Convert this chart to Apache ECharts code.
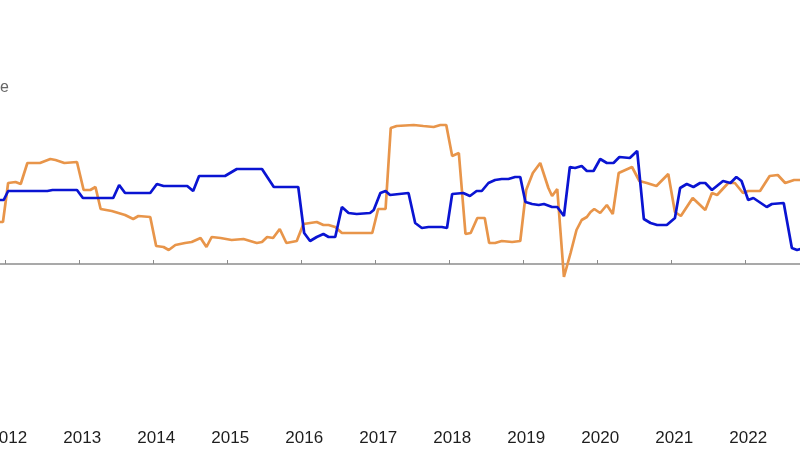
<!DOCTYPE html>
<html>
<head>
<meta charset="utf-8">
<title>Two series, 2012-2022</title>
<script src="https://cdn.jsdelivr.net/npm/echarts@6/dist/echarts.min.js"></script>
<style>
  html, body { margin: 0; padding: 0; background: #fff; }
  #chart { width: 800px; height: 450px; }
</style>
</head>
<body>
<div id="chart"></div>
<script>
// year ticks along the bottom
const years = [2012, 2013, 2014, 2015, 2016, 2017, 2018, 2019, 2020, 2021, 2022];

// blue series: [decimal year, value]
const blueSeries = [
  [2011.93, 6.4], [2011.98, 6.4], [2012.04, 7.3], [2012.57, 7.3], [2012.64, 7.4],
  [2012.97, 7.4], [2013.05, 6.6], [2013.46, 6.6], [2013.54, 7.9], [2013.62, 7.1],
  [2013.96, 7.1], [2014.05, 8.0], [2014.14, 7.8], [2014.46, 7.8], [2014.54, 7.3],
  [2014.62, 8.8], [2014.97, 8.8], [2015.13, 9.5], [2015.47, 9.5], [2015.63, 7.7],
  [2015.96, 7.7], [2016.04, 3.1], [2016.12, 2.3], [2016.21, 2.7], [2016.30, 3.0],
  [2016.37, 2.7], [2016.46, 2.7], [2016.55, 5.7], [2016.64, 5.1], [2016.75, 5.0],
  [2016.93, 5.1], [2016.98, 5.4], [2017.07, 7.1], [2017.14, 7.3], [2017.20, 6.9],
  [2017.45, 7.1], [2017.54, 4.1], [2017.63, 3.6], [2017.72, 3.7], [2017.90, 3.7],
  [2017.97, 3.6], [2018.04, 7.0], [2018.19, 7.1], [2018.28, 6.8], [2018.37, 7.3],
  [2018.44, 7.3], [2018.53, 8.1], [2018.62, 8.4], [2018.71, 8.5], [2018.80, 8.5],
  [2018.89, 8.7], [2018.96, 8.7], [2019.03, 6.2], [2019.12, 6.0], [2019.21, 5.9],
  [2019.28, 6.0], [2019.39, 5.7], [2019.46, 5.7], [2019.55, 4.8], [2019.63, 9.7],
  [2019.70, 9.6], [2019.79, 9.8], [2019.86, 9.3], [2019.95, 9.3], [2020.04, 10.5],
  [2020.13, 10.1], [2020.22, 10.1], [2020.30, 10.7], [2020.44, 10.6], [2020.54, 11.3],
  [2020.63, 4.5], [2020.72, 4.1], [2020.81, 3.9], [2020.94, 3.9], [2021.05, 4.6],
  [2021.12, 7.6], [2021.21, 8.0], [2021.30, 7.7], [2021.39, 8.1], [2021.46, 8.1],
  [2021.55, 7.4], [2021.70, 8.3], [2021.80, 8.1], [2021.88, 8.7], [2021.95, 8.3],
  [2022.04, 6.4], [2022.11, 6.6], [2022.29, 5.7], [2022.36, 6.0], [2022.52, 6.1],
  [2022.63, 1.6], [2022.70, 1.4], [2022.75, 1.5]
];

// orange series: [decimal year, value]
const orangeSeries = [
  [2011.93, 4.2], [2011.97, 4.2], [2012.04, 8.1], [2012.14, 8.2], [2012.21, 8.0],
  [2012.30, 10.1], [2012.47, 10.1], [2012.61, 10.5], [2012.68, 10.4], [2012.80, 10.1],
  [2012.97, 10.2], [2013.06, 7.4], [2013.15, 7.4], [2013.22, 7.7], [2013.29, 5.5],
  [2013.44, 5.3], [2013.62, 4.9], [2013.73, 4.5], [2013.80, 4.8], [2013.96, 4.7],
  [2014.04, 1.8], [2014.14, 1.7], [2014.21, 1.4], [2014.30, 1.9], [2014.43, 2.1],
  [2014.52, 2.2], [2014.64, 2.6], [2014.72, 1.7], [2014.79, 2.7], [2014.91, 2.6],
  [2015.06, 2.4], [2015.22, 2.5], [2015.40, 2.1], [2015.47, 2.2], [2015.54, 2.7],
  [2015.62, 2.6], [2015.71, 3.5], [2015.80, 2.1], [2015.94, 2.3], [2016.03, 4.0],
  [2016.21, 4.2], [2016.30, 3.9], [2016.37, 3.9], [2016.46, 3.7], [2016.55, 3.1],
  [2016.96, 3.1], [2017.04, 5.5], [2017.14, 5.5], [2017.21, 13.6], [2017.29, 13.8],
  [2017.52, 13.9], [2017.65, 13.8], [2017.79, 13.7], [2017.88, 13.9], [2017.96, 13.9],
  [2018.04, 10.8], [2018.13, 11.1], [2018.22, 3.0], [2018.29, 3.1], [2018.38, 4.6],
  [2018.48, 4.6], [2018.54, 2.1], [2018.62, 2.1], [2018.71, 2.3], [2018.85, 2.2],
  [2018.96, 2.3], [2019.04, 7.4], [2019.13, 9.1], [2019.23, 10.1], [2019.34, 7.6],
  [2019.39, 6.8], [2019.46, 7.5], [2019.55, -1.3], [2019.64, 1.1], [2019.72, 3.4],
  [2019.79, 4.4], [2019.86, 4.7], [2019.91, 5.2], [2019.96, 5.5], [2020.04, 5.1],
  [2020.13, 5.9], [2020.21, 5.0], [2020.29, 9.1], [2020.47, 9.7], [2020.57, 8.3],
  [2020.67, 8.1], [2020.80, 7.8], [2020.96, 9.0], [2021.05, 5.2], [2021.13, 4.8],
  [2021.29, 6.6], [2021.46, 5.4], [2021.55, 7.1], [2021.62, 6.9], [2021.77, 8.1],
  [2021.86, 8.1], [2021.97, 7.1], [2022.04, 7.3], [2022.20, 7.3], [2022.33, 8.8],
  [2022.44, 8.9], [2022.54, 8.1], [2022.66, 8.4], [2022.75, 8.4]
];

const X_MIN = 2011.93;
const X_MAX = 2022.74;

const chart = echarts.init(document.getElementById('chart'));

chart.setOption({
  animation: false,
  backgroundColor: '#ffffff',
  grid: [
    // main plot area, y from -16 to 24
    { left: 0, right: 0, top: 24, bottom: 26, containLabel: false, outerBoundsMode: 'none' },
    // upper half down to the zero line, only for the axis line with ticks
    { left: 0, right: 0, top: 24, height: 240, containLabel: false, outerBoundsMode: 'none' }
  ],
  graphic: [
    {
      type: 'text',
      left: 0,
      top: 80,
      style: { text: 'e', fill: '#666666', font: '16px "Liberation Sans", Arial, sans-serif' }
    }
  ],
  xAxis: [
    {
      // bottom labels only
      type: 'value',
      gridIndex: 0,
      min: X_MIN,
      max: X_MAX,
      position: 'bottom',
      axisLine: { show: false },
      axisTick: { show: false },
      splitLine: { show: false },
      axisLabel: {
        customValues: years,
        formatter: v => String(v),
        color: '#1e1e1e',
        fontSize: 17,
        fontFamily: '"Liberation Sans", Arial, sans-serif',
        margin: 6,
        padding: [0, 0, 0, 6],
        showMinLabel: true,
        showMaxLabel: true
      }
    },
    {
      // zero line with upward ticks
      type: 'value',
      gridIndex: 1,
      min: X_MIN,
      max: X_MAX,
      position: 'bottom',
      axisLine: { show: true, onZero: false, lineStyle: { color: '#8c8c8c', width: 1.5 } },
      axisTick: {
        show: true,
        inside: true,
        length: 4,
        customValues: years,
        lineStyle: { color: '#8c8c8c', width: 1 }
      },
      axisLabel: { show: false },
      splitLine: { show: false }
    }
  ],
  yAxis: [
    {
      type: 'value',
      gridIndex: 0,
      min: -16,
      max: 24,
      axisLine: { show: false },
      axisTick: { show: false },
      axisLabel: { show: false },
      splitLine: { show: false }
    },
    {
      type: 'value',
      gridIndex: 1,
      min: 0,
      max: 24,
      axisLine: { show: false },
      axisTick: { show: false },
      axisLabel: { show: false },
      splitLine: { show: false }
    }
  ],
  series: [
    {
      name: 'Blue',
      type: 'line',
      xAxisIndex: 0,
      yAxisIndex: 0,
      data: blueSeries,
      showSymbol: false,
      symbol: 'none',
      lineStyle: { color: '#0a14d2', width: 2.7 },
      z: 3
    },
    {
      name: 'Orange',
      type: 'line',
      xAxisIndex: 0,
      yAxisIndex: 0,
      data: orangeSeries,
      showSymbol: false,
      symbol: 'none',
      lineStyle: { color: '#e8954a', width: 2.7 },
      z: 2
    }
  ]
});
</script>
</body>
</html>
